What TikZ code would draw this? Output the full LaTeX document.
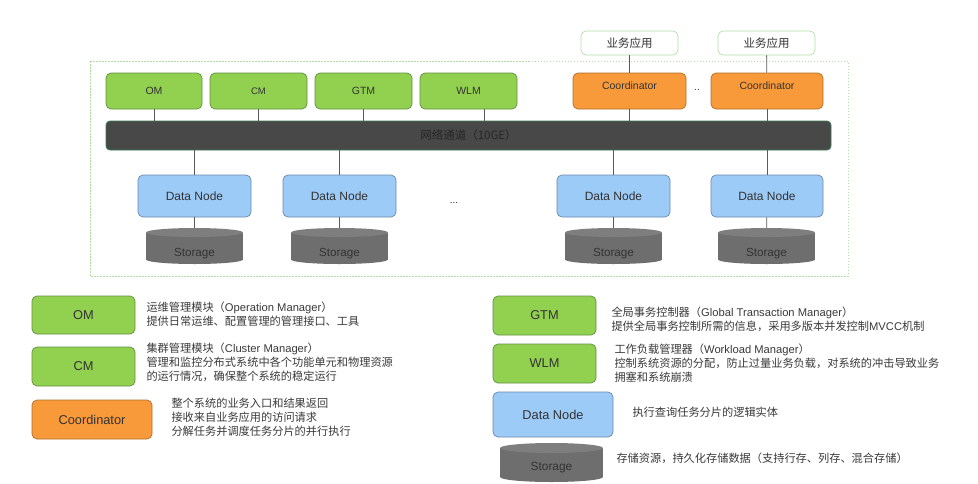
\documentclass[tikz,border=0pt]{standalone}
\usepackage{fontspec}
\setmainfont{Liberation Sans}
\newfontfamily\cjk{Noto Sans CJK SC}
\newcommand\zhtxt[1]{{\cjk #1}}
\definecolor{gfill}{HTML}{92D050}
\definecolor{gline}{HTML}{628F44}
\definecolor{ofill}{HTML}{F8993A}
\definecolor{oline}{HTML}{B0702C}
\definecolor{bfill}{HTML}{9DCBF7}
\definecolor{bline}{HTML}{6A89AA}
\definecolor{sbody}{HTML}{6E6E6E}
\definecolor{stopc}{HTML}{7E7E7E}
\definecolor{barfill}{HTML}{484848}
\definecolor{barline}{HTML}{3D7A55}
\definecolor{txt}{HTML}{333333}
\definecolor{desc}{HTML}{3A3A3A}
\definecolor{conn}{HTML}{5A5A5A}
\definecolor{framec}{HTML}{B5DDA8}
\definecolor{appline}{HTML}{B5DDA8}
\begin{document}
\begin{tikzpicture}[x=1pt,y=-1pt,
  box/.style={rounded corners=5pt, inner sep=0pt, line width=0.7pt, text=txt},
  greenbox/.style={box, fill=gfill, draw=gline},
  orangebox/.style={box, fill=ofill, draw=oline},
  bluebox/.style={box, fill=bfill, draw=bline},
  topfont/.style={font=\fontsize{10.5}{12}\selectfont},
  bigfont/.style={font=\fontsize{12.8}{14}\selectfont},
  storagebox/.style n args={3}{minimum width=#1pt, minimum height=#2pt, inner sep=0pt, text=txt,
    path picture={
      \fill[sbody] ([yshift=-#3pt]path picture bounding box.north west) rectangle ([yshift=#3pt]path picture bounding box.south east);
      \fill[sbody] ([yshift=#3pt]path picture bounding box.south) ellipse [x radius=#1*0.5pt, y radius=#3pt];
      \fill[stopc] ([yshift=-#3pt]path picture bounding box.north) ellipse [x radius=#1*0.5pt, y radius=#3pt];
    }},
  connector/.style={draw=conn, line width=0.8pt},
  desctext/.style={anchor=west, align=left, text=desc, font=\fontsize{11.2}{14}\selectfont},
]
\useasboundingbox (0,0) rectangle (978,483);
\fill[white] (0,0) rectangle (978,483);

% outer frame
\draw[framec, line width=0.7pt, dash pattern=on 1.5pt off 1.5pt] (90,61) rectangle (848,276);

% application boxes
\node[box, draw=appline, fill=white, minimum width=97pt, minimum height=24pt, font=\cjk\fontsize{11.5}{12}\selectfont] (app1) at (629.5,43) {业务应用};
\node[box, draw=appline, fill=white, minimum width=97pt, minimum height=24pt, font=\cjk\fontsize{11.5}{12}\selectfont] (app2) at (766.5,43) {业务应用};

% top modules
\node[greenbox, topfont, minimum width=96pt, minimum height=36pt] (om) at (154,91) {OM};
\node[greenbox, font=\fontsize{9.5}{11}\selectfont, minimum width=97pt, minimum height=36pt] (cm) at (258.5,91) {CM};
\node[greenbox, topfont, minimum width=97pt, minimum height=36pt] (gtm) at (363.5,91) {GTM};
\node[greenbox, topfont, minimum width=97pt, minimum height=36pt] (wlm) at (468.5,91) {WLM};
\node[orangebox, topfont, minimum width=113pt, minimum height=36pt, text height=7pt, text depth=10pt] (co1) at (629.5,91) {Coordinator};
\node[orangebox, topfont, minimum width=112pt, minimum height=36pt, text height=7pt, text depth=10pt] (co2) at (767,91) {Coordinator};
\node[text=txt, font=\fontsize{10}{10}\selectfont] (dots2) at (697,90) {..};

% network bar
\node[rounded corners=4pt, fill=barfill, draw=barline, line width=0.8pt, minimum width=725pt, minimum height=29pt, inner sep=0pt,
  text=black!85, font=\cjk\fontsize{11.5}{12}\selectfont] (bar) at (468.5,135.5) {网络通道（10GE）};

% data nodes
\node[bluebox, font=\fontsize{12}{14}\selectfont, minimum width=113pt, minimum height=42pt] (dn1) at (194.5,196) {Data Node};
\node[bluebox, font=\fontsize{12}{14}\selectfont, minimum width=113pt, minimum height=42pt] (dn2) at (339.5,196) {Data Node};
\node[bluebox, font=\fontsize{12}{14}\selectfont, minimum width=113pt, minimum height=42pt] (dn3) at (613.5,196) {Data Node};
\node[bluebox, font=\fontsize{12}{14}\selectfont, minimum width=112pt, minimum height=42pt] (dn4) at (767,196) {Data Node};
\node[text=txt, font=\fontsize{10}{10}\selectfont] (dots1) at (454,203) {...};

% storage
\node[storagebox={97}{36}{4.5}, font=\fontsize{11.7}{13}\selectfont, text height=22pt, text depth=1pt] (s1) at (194.5,246) {Storage};
\node[storagebox={97}{36}{4.5}, font=\fontsize{11.7}{13}\selectfont, text height=22pt, text depth=1pt] (s2) at (339.5,246) {Storage};
\node[storagebox={97}{36}{4.5}, font=\fontsize{11.7}{13}\selectfont, text height=22pt, text depth=1pt] (s3) at (613.5,246) {Storage};
\node[storagebox={97}{36}{4.5}, font=\fontsize{11.7}{13}\selectfont, text height=22pt, text depth=1pt] (s4) at (766.5,246) {Storage};

% connectors
\draw[connector] (om) -- (om |- bar.north);
\draw[connector] (cm) -- (cm |- bar.north);
\draw[connector] (gtm) -- (gtm |- bar.north);
\draw[connector] ([xshift=16pt]wlm.south) -- ([xshift=16pt]wlm.south |- bar.north);
\draw[connector] (app1) -- (co1);
\draw[connector] (app2) -- (co2);
\draw[connector] (co1) -- (co1 |- bar.north);
\draw[connector] (co2) -- (co2 |- bar.north);
\draw[connector] (bar.south -| dn1) -- (dn1);
\draw[connector] (bar.south -| dn2) -- (dn2);
\draw[connector] (bar.south -| dn3) -- (dn3);
\draw[connector] (bar.south -| dn4) -- (dn4);
\draw[connector] (dn1) -- (s1);
\draw[connector] (dn2) -- (s2);
\draw[connector] (dn3) -- (s3);
\draw[connector] (dn4) -- (s4);

% legend left
\node[greenbox, bigfont, minimum width=103pt, minimum height=38pt] (lom) at (83.5,315) {OM};
\node[desctext] (lomd) at (143,314) {\zhtxt{运维管理模块（}Operation Manager\zhtxt{）}\\\zhtxt{提供日常运维、配置管理的管理接口、工具}};
\node[greenbox, bigfont, minimum width=103pt, minimum height=39pt] (lcm) at (83.5,366.5) {CM};
\node[desctext] (lcmd) at (143,362.5) {\zhtxt{集群管理模块（}Cluster Manager\zhtxt{）}\\\zhtxt{管理和监控分布式系统中各个功能单元和物理资源}\\\zhtxt{的运行情况，确保整个系统的稳定运行}};
\node[orangebox, bigfont, minimum width=120pt, minimum height=39pt] (lco) at (92,419.5) {Coordinator};
\node[desctext] (lcod) at (168,417) {\zhtxt{整个系统的业务入口和结果返回}\\\zhtxt{接收来自业务应用的访问请求}\\\zhtxt{分解任务并调度任务分片的并行执行}};

% legend right
\node[greenbox, bigfont, minimum width=103pt, minimum height=39pt] (lgtm) at (544.5,315.5) {GTM};
\node[desctext] (lgtmd) at (608,319) {\zhtxt{全局事务控制器（}Global Transaction Manager\zhtxt{）}\\\zhtxt{提供全局事务控制所需的信息，采用多版本并发控制}MVCC\zhtxt{机制}};
\node[greenbox, bigfont, minimum width=103pt, minimum height=39pt] (lwlm) at (544.5,363.5) {WLM};
\node[desctext] (lwlmd) at (611,363) {\zhtxt{工作负载管理器（}Workload Manager\zhtxt{）}\\\zhtxt{控制系统资源的分配，防止过量业务负载，对系统的冲击导致业务}\\\zhtxt{拥塞和系统崩溃}};
\node[bluebox, bigfont, minimum width=120pt, minimum height=45pt] (ldn) at (553,414.5) {Data Node};
\node[desctext] (ldnd) at (629,412) {\zhtxt{执行查询任务分片的逻辑实体}};
\node[storagebox={103}{39}{5}, font=\fontsize{11.9}{13}\selectfont, text height=17pt, text depth=2pt] (ls) at (551.5,462.5) {Storage};
\node[desctext] (lsd) at (613,458) {\zhtxt{存储资源，持久化存储数据（支持行存、列存、混合存储）}};
\end{tikzpicture}
\end{document}
